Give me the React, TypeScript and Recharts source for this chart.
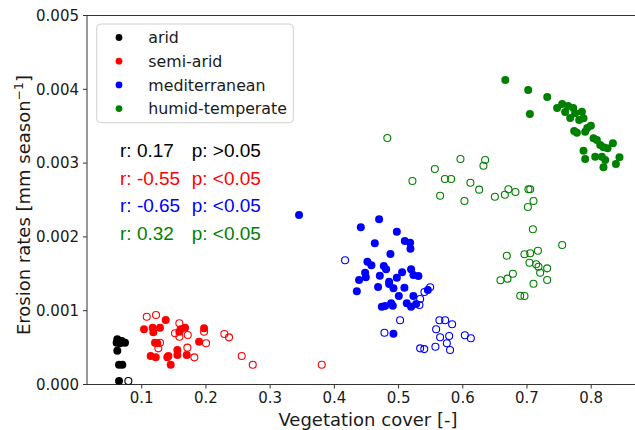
import React from 'react';
import { ScatterChart, Scatter, XAxis, YAxis, ReferenceLine } from 'recharts';

// [vegetation cover, erosion rate]
const aridFilled: [number, number][] = [
  [0.062, 0.000612], [0.061, 0.000566], [0.0689, 0.00059], [0.074, 0.000566], [0.0662, 0.000558],
  [0.062, 0.000458], [0.0647, 0.000268], [0.0698, 0.000268], [0.0647, 0.000047],
];
const aridOpen: [number, number][] = [[0.0792, 0.000047]];

const semiFilled: [number, number][] = [
  [0.1036, 0.000748], [0.1171, 0.00077], [0.1181, 0.000707], [0.1285, 0.00077], [0.1374, 0.000874],
  [0.1207, 0.000566], [0.1243, 0.000558], [0.114, 0.000386], [0.1218, 0.000368], [0.1399, 0.000368],
  [0.1415, 0.000386], [0.1452, 0.000268], [0.1555, 0.000467], [0.1555, 0.0004], [0.1586, 0.000715],
  [0.1608, 0.000748], [0.1675, 0.00077], [0.1701, 0.0004], [0.1893, 0.00058], [0.1971, 0.000762],
];
const semiOpen: [number, number][] = [
  [0.1078, 0.000919], [0.1223, 0.000942], [0.1586, 0.000829], [0.1519, 0.000694], [0.1586, 0.000648],
  [0.1717, 0.000671], [0.1285, 0.000566], [0.1259, 0.00049], [0.1711, 0.000499], [0.182, 0.000368],
  [0.1971, 0.000715], [0.2002, 0.000558], [0.2287, 0.000684], [0.236, 0.000639], [0.2558, 0.000386],
  [0.2729, 0.000268], [0.3804, 0.000268],
];

const medFilled: [number, number][] = [
  [0.345, 0.002297], [0.4697, 0.002238], [0.4412, 0.00213], [0.4973, 0.00207], [0.463, 0.001913],
  [0.5097, 0.001944], [0.518, 0.001921], [0.5185, 0.00184], [0.4873, 0.001768], [0.4515, 0.001664],
  [0.4577, 0.001615], [0.477, 0.001606], [0.4806, 0.001561], [0.4479, 0.001515], [0.4385, 0.001416],
  [0.449, 0.001453], [0.4708, 0.001474], [0.5055, 0.00152], [0.5195, 0.001561], [0.4973, 0.001447],
  [0.5231, 0.001484], [0.5309, 0.00147], [0.435, 0.001263], [0.4681, 0.001321], [0.4853, 0.001362],
  [0.4853, 0.001393], [0.492, 0.001303], [0.5091, 0.001312], [0.5004, 0.001199], [0.5231, 0.001199],
  [0.5456, 0.00128], [0.4739, 0.001054], [0.479, 0.001064], [0.4884, 0.0011], [0.491, 0.001068],
  [0.5128, 0.0011], [0.5195, 0.001054], [0.5273, 0.001091], [0.492, 0.000688],
];
const medOpen: [number, number][] = [
  [0.4167, 0.001683], [0.5492, 0.001317], [0.5403, 0.001253], [0.5336, 0.001159], [0.5325, 0.001077],
  [0.5024, 0.00087], [0.478, 0.000702], [0.5636, 0.00087], [0.5725, 0.00087], [0.5834, 0.000816],
  [0.5585, 0.000748], [0.5647, 0.00064], [0.5788, 0.000657], [0.6032, 0.000667], [0.6126, 0.000626],
  [0.5752, 0.000558], [0.5336, 0.00049], [0.54, 0.00048], [0.5574, 0.000512], [0.5802, 0.000467],
];

const humidFilled: [number, number][] = [
  [0.6662, 0.004126], [0.7019, 0.00399], [0.7315, 0.003896], [0.7045, 0.003665], [0.7777, 0.003412],
  [0.7469, 0.003747], [0.7548, 0.0038], [0.7641, 0.003773], [0.7594, 0.003692], [0.772, 0.003747],
  [0.7673, 0.003611], [0.7813, 0.003584], [0.7735, 0.003435], [0.7938, 0.003476], [0.775, 0.003675],
  [0.7855, 0.003696], [0.788, 0.003607], [0.7906, 0.003426], [0.7995, 0.003507], [0.8036, 0.003336],
  [0.8088, 0.003313], [0.814, 0.003245], [0.8191, 0.003214], [0.8338, 0.003268], [0.8254, 0.0032],
  [0.788, 0.003168], [0.7906, 0.003056], [0.8062, 0.003087], [0.8166, 0.003087], [0.8218, 0.003042],
  [0.844, 0.003078], [0.8385, 0.002988], [0.8191, 0.002943],
];
const humidOpen: [number, number][] = [
  [0.4825, 0.003341], [0.5964, 0.003056], [0.6348, 0.003042], [0.6322, 0.002965], [0.5565, 0.00292],
  [0.5721, 0.002785], [0.5819, 0.002785], [0.5216, 0.002757], [0.6119, 0.002734], [0.6255, 0.00264],
  [0.5647, 0.002558], [0.6026, 0.002486], [0.65, 0.002545], [0.6655, 0.002572], [0.6711, 0.002645],
  [0.682, 0.002608], [0.7023, 0.002645], [0.705, 0.002645], [0.7101, 0.002486], [0.7014, 0.002405],
  [0.7092, 0.002103], [0.7548, 0.00189], [0.717, 0.001813], [0.6686, 0.001745], [0.6961, 0.001764],
  [0.705, 0.001778], [0.7039, 0.00165], [0.7143, 0.001629], [0.7179, 0.001596], [0.7314, 0.001574],
  [0.7205, 0.001515], [0.678, 0.001501], [0.6696, 0.001434], [0.6587, 0.001412], [0.7314, 0.001416],
  [0.7101, 0.001366], [0.6894, 0.001203], [0.6961, 0.001199],
];

const xTicks = [0.1, 0.2, 0.3, 0.4, 0.5, 0.6, 0.7, 0.8];
const yTicks = [0, 0.001, 0.002, 0.003, 0.004, 0.005];

const legendItems = [
  { label: 'arid', color: 'black' },
  { label: 'semi-arid', color: 'red' },
  { label: 'mediterranean', color: 'blue' },
  { label: 'humid-temperate', color: 'green' },
];
const statsRows = [
  { r: 'r: 0.17', p: 'p: >0.05', color: 'black' },
  { r: 'r: -0.55', p: 'p: <0.05', color: 'red' },
  { r: 'r: -0.65', p: 'p: <0.05', color: 'blue' },
  { r: 'r: 0.32', p: 'p: <0.05', color: 'green' },
];

const toPts = (arr: [number, number][]) => arr.map(([x, y]) => ({ x, y }));

const filledShape = (color: string) => (p: any) => (
  <circle cx={p.cx} cy={p.cy} r={4} fill={color} />
);
const openShape = (color: string) => (p: any) => (
  <circle cx={p.cx} cy={p.cy} r={3.5} fill="none" stroke={color} strokeWidth={1.1} />
);

const FONT = 'DejaVu Sans, sans-serif';
const tickStyle = { fontFamily: FONT, fontSize: 15, fill: '#1a1a1a' };

const series: { data: [number, number][]; color: string; filled: boolean }[] = [
  { data: aridFilled, color: 'black', filled: true },
  { data: aridOpen, color: 'black', filled: false },
  { data: semiFilled, color: 'red', filled: true },
  { data: semiOpen, color: 'red', filled: false },
  { data: medFilled, color: 'blue', filled: true },
  { data: medOpen, color: 'blue', filled: false },
  { data: humidFilled, color: 'green', filled: true },
  { data: humidOpen, color: 'green', filled: false },
];

export default function App() {
  return (
    <div style={{ position: 'absolute', left: 0, top: 0, width: 635, height: 430, overflow: 'hidden', background: '#fff' }}>
      <ScatterChart width={649} height={430} margin={{ top: 15.5, right: 0, bottom: 0, left: 0 }}>
        <XAxis
          type="number"
          dataKey="x"
          domain={[0.0148, 0.89]}
          ticks={xTicks}
          tickFormatter={(v: number) => v.toFixed(1)}
          height={45.5}
          tickSize={4}
          tickMargin={4}
          tick={tickStyle}
          stroke="#333"
          allowDataOverflow
        />
        <YAxis
          type="number"
          dataKey="y"
          domain={[0, 0.005]}
          ticks={yTicks}
          tickFormatter={(v: number) => v.toFixed(3)}
          width={87}
          tickSize={4}
          tickMargin={4}
          tick={tickStyle}
          stroke="#333"
          allowDataOverflow
        />
        <ReferenceLine y={0.005} stroke="#333" strokeWidth={1} />
        {series.map((s, i) => (
          <Scatter
            key={i}
            data={toPts(s.data)}
            isAnimationActive={false}
            shape={s.filled ? filledShape(s.color) : openShape(s.color)}
          />
        ))}
      </ScatterChart>
      <svg width={635} height={430} style={{ position: 'absolute', left: 0, top: 0, pointerEvents: 'none' }}>
        <rect x={96.7} y={24} width={196.6} height={98.7} rx={4} fill="#fff" fillOpacity={0.8} stroke="#d0d0d0" strokeWidth={1} />
        {legendItems.map((it, i) => (
          <g key={it.label}>
            <circle cx={119} cy={37.5 + i * 23.7} r={3.4} fill={it.color} />
            <text x={148.3} y={43.3 + i * 23.7} fontFamily={FONT} fontSize={15.8} fill="#1a1a1a">{it.label}</text>
          </g>
        ))}
        {statsRows.map((row, i) => (
          <g key={i} fontFamily="Liberation Sans, Arial, sans-serif" fontSize={19} fill={row.color}>
            <text x={120} y={157 + i * 27.6}>{row.r}</text>
            <text x={191.7} y={157 + i * 27.6}>{row.p}</text>
          </g>
        ))}
        <text x={368} y={426} textAnchor="middle" fontFamily={FONT} fontSize={18} fill="#1a1a1a">Vegetation cover [-]</text>
        <text transform="translate(30,205) rotate(-90)" textAnchor="middle" fontFamily={FONT} fontSize={18} fill="#1a1a1a">
          Erosion rates [mm season<tspan dy={-7} fontSize={12.5}>−1</tspan><tspan dy={7}>]</tspan>
        </text>
      </svg>
    </div>
  );
}
